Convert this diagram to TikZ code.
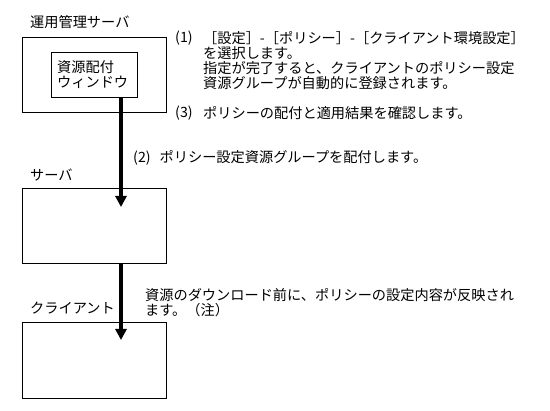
\documentclass[tikz,border=0pt]{standalone}
\usepackage{fontspec}
\setmainfont{Noto Sans CJK JP}
\usetikzlibrary{positioning,arrows.meta}
\newcommand\jpsize{\fontsize{14.2pt}{15.2pt}\selectfont}
\tikzset{
  frame/.style={draw,line width=1pt,inner sep=0pt,anchor=north west},
  tag/.style={font=\jpsize,anchor=west,inner sep=0pt},
  note/.style={font=\jpsize,anchor=north west,align=left,inner sep=0pt},
  flowarrow/.style={-{Triangle[length=11pt,width=11pt]},line width=3.5pt}
}

\begin{document}
\begin{tikzpicture}[x=1pt,y=-1pt]
  \useasboundingbox (0,0) rectangle (550,411);
  % boxes
  \node[frame,minimum width=144pt,minimum height=75pt] (admin) at (22,37) {};
  \node[frame,minimum width=86pt,minimum height=45pt] (win) at (51,52) {};
  \node[frame,minimum width=144pt,minimum height=75pt] (server) at (22,188) {};
  \node[frame,minimum width=144pt,minimum height=76pt] (client) at (22,322) {};
  % box labels
  \node[tag] (adminlbl) at (30,22) {運用管理サーバ};
  \node[note] (winlbl) at (57,60) {資源配付\\ウィンドウ};
  \node[tag] (serverlbl) at (30,175) {サーバ};
  \node[tag] (clientlbl) at (30,308) {クライアント};
  % steps
  \node[tag] (num1) at (175,38) {(1)};
  \node[note] (step1) at (203,31) {［設定］-［ポリシー］-［クライアント環境設定］\\
    を選択します。\\
    指定が完了すると、クライアントのポリシー設定\\
    資源グループが自動的に登録されます。};
  \node[tag] (num3) at (175,113) {(3)};
  \node[tag] (step3) at (203,113) {ポリシーの配付と適用結果を確認します。};
  \node[tag] (step2) at (133,158) {(2)\hspace{9pt}ポリシー設定資源グループを配付します。};
  \node[note] (clientnote) at (145,288) {資源のダウンロード前に、ポリシーの設定内容が反映され\\
    ます。（注）};
  % arrows
  \coordinate (tipA) at (121,207);
  \coordinate (tipB) at (121,340);
  \draw[flowarrow] (win.south -| tipA) -- (tipA);
  \draw[flowarrow] (server.south -| tipB) -- (tipB);
\end{tikzpicture}
\end{document}
